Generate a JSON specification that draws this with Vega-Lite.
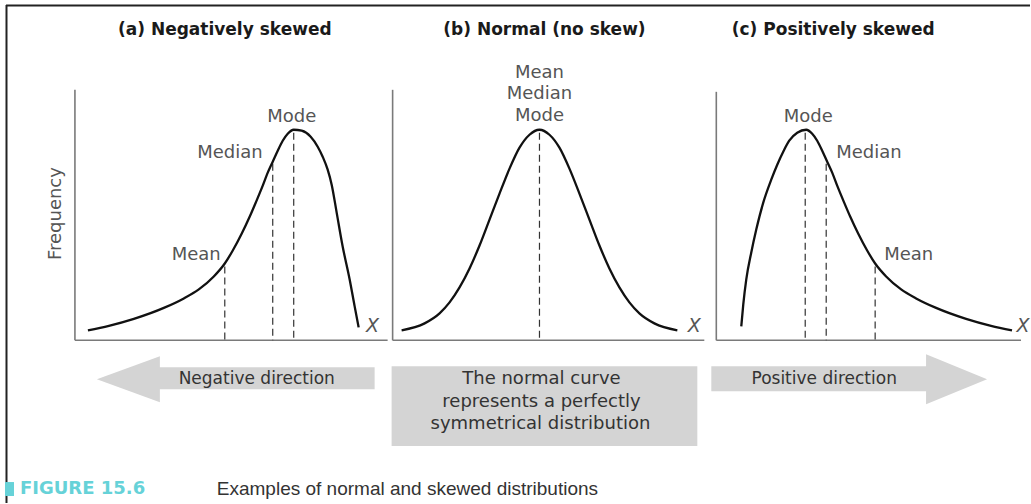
{
  "$schema": "https://vega.github.io/schema/vega-lite/v6.json",
  "width": 1031,
  "height": 504,
  "autosize": {"type": "fit", "contains": "padding"},
  "padding": 0,
  "background": "white",
  "config": {"view": {"stroke": null}},
  "datasets": {
    "frame": [
      {"x": 6, "y": 5.5, "x2": 1031, "y2": 5.5},
      {"x": 6.5, "y": 5, "x2": 6.5, "y2": 504}
    ],
    "axes": [
      {"x": 75, "y": 90, "x2": 75, "y2": 341},
      {"x": 75, "y": 341, "x2": 388, "y2": 341},
      {"x": 393, "y": 90, "x2": 393, "y2": 341},
      {"x": 393, "y": 341, "x2": 705, "y2": 341},
      {"x": 717, "y": 92, "x2": 717, "y2": 341},
      {"x": 717, "y": 341, "x2": 1022, "y2": 341}
    ],
    "dashes": [
      {"x": 225, "y": 267, "y2": 341},
      {"x": 273, "y": 164, "y2": 341},
      {"x": 294, "y": 133, "y2": 341},
      {"x": 540, "y": 133, "y2": 341},
      {"x": 806, "y": 133, "y2": 341},
      {"x": 827, "y": 164, "y2": 341},
      {"x": 876, "y": 267, "y2": 341}
    ],
    "curves": [
      {"panel": "a", "x": 88, "y": 331}, {"panel": "a", "x": 109, "y": 326.5}, {"panel": "a", "x": 134, "y": 319.5},
      {"panel": "a", "x": 164, "y": 308.5}, {"panel": "a", "x": 184, "y": 299}, {"panel": "a", "x": 199, "y": 290},
      {"panel": "a", "x": 214, "y": 277}, {"panel": "a", "x": 225, "y": 264}, {"panel": "a", "x": 233, "y": 251},
      {"panel": "a", "x": 242, "y": 234}, {"panel": "a", "x": 250, "y": 217}, {"panel": "a", "x": 256, "y": 203},
      {"panel": "a", "x": 263, "y": 186}, {"panel": "a", "x": 268, "y": 173}, {"panel": "a", "x": 273, "y": 162},
      {"panel": "a", "x": 278, "y": 151}, {"panel": "a", "x": 283, "y": 141}, {"panel": "a", "x": 288, "y": 134},
      {"panel": "a", "x": 294, "y": 130}, {"panel": "a", "x": 302, "y": 131},
      {"panel": "a", "x": 311, "y": 137}, {"panel": "a", "x": 318, "y": 147}, {"panel": "a", "x": 323, "y": 157},
      {"panel": "a", "x": 328, "y": 170}, {"panel": "a", "x": 332, "y": 185}, {"panel": "a", "x": 337, "y": 213},
      {"panel": "a", "x": 343, "y": 247}, {"panel": "a", "x": 350, "y": 280}, {"panel": "a", "x": 355, "y": 307},
      {"panel": "a", "x": 359, "y": 328},
      {"panel": "b", "x": 402, "y": 331}, {"panel": "b", "x": 425, "y": 324}, {"panel": "b", "x": 440, "y": 314},
      {"panel": "b", "x": 450, "y": 303}, {"panel": "b", "x": 460, "y": 288}, {"panel": "b", "x": 470, "y": 269},
      {"panel": "b", "x": 480, "y": 246}, {"panel": "b", "x": 490, "y": 220}, {"panel": "b", "x": 500, "y": 194},
      {"panel": "b", "x": 510, "y": 169}, {"panel": "b", "x": 520, "y": 148}, {"panel": "b", "x": 530, "y": 135},
      {"panel": "b", "x": 540, "y": 130}, {"panel": "b", "x": 550, "y": 135}, {"panel": "b", "x": 560, "y": 148},
      {"panel": "b", "x": 570, "y": 169}, {"panel": "b", "x": 580, "y": 194}, {"panel": "b", "x": 590, "y": 220},
      {"panel": "b", "x": 600, "y": 246}, {"panel": "b", "x": 610, "y": 269}, {"panel": "b", "x": 620, "y": 288},
      {"panel": "b", "x": 630, "y": 303}, {"panel": "b", "x": 640, "y": 314}, {"panel": "b", "x": 655, "y": 324},
      {"panel": "b", "x": 678, "y": 331},
      {"panel": "c", "x": 742, "y": 327}, {"panel": "c", "x": 744, "y": 305}, {"panel": "c", "x": 747, "y": 280},
      {"panel": "c", "x": 752, "y": 253}, {"panel": "c", "x": 757, "y": 230}, {"panel": "c", "x": 764, "y": 203},
      {"panel": "c", "x": 772, "y": 180}, {"panel": "c", "x": 778, "y": 165}, {"panel": "c", "x": 784, "y": 152},
      {"panel": "c", "x": 790, "y": 141}, {"panel": "c", "x": 798, "y": 133}, {"panel": "c", "x": 807, "y": 130},
      {"panel": "c", "x": 813, "y": 134}, {"panel": "c", "x": 818, "y": 141}, {"panel": "c", "x": 823, "y": 151},
      {"panel": "c", "x": 828, "y": 162}, {"panel": "c", "x": 833, "y": 173}, {"panel": "c", "x": 838, "y": 186},
      {"panel": "c", "x": 845, "y": 203}, {"panel": "c", "x": 851, "y": 217}, {"panel": "c", "x": 859, "y": 234},
      {"panel": "c", "x": 868, "y": 251}, {"panel": "c", "x": 876, "y": 264}, {"panel": "c", "x": 887, "y": 277},
      {"panel": "c", "x": 902, "y": 290}, {"panel": "c", "x": 917, "y": 299}, {"panel": "c", "x": 937, "y": 308.5},
      {"panel": "c", "x": 967, "y": 319.5}, {"panel": "c", "x": 992, "y": 326.5}, {"panel": "c", "x": 1013, "y": 331}
    ],
    "arrowBodies": [
      {"x": 159, "x2": 375, "y": 368, "y2": 390},
      {"x": 712, "x2": 928, "y": 367, "y2": 392}
    ],
    "headLeft": [
      {"x": 128.5, "y": 380}
    ],
    "headRight": [
      {"x": 957.5, "y": 380}
    ],
    "box": [
      {"x": 392, "x2": 698, "y": 367, "y2": 447}
    ],
    "square": [
      {"x": 5, "x2": 14, "y": 483, "y2": 497}
    ],
    "titles": [
      {"x": 225, "y": 30, "text": "(a) Negatively skewed"},
      {"x": 545, "y": 30, "text": "(b) Normal (no skew)"},
      {"x": 834, "y": 30, "text": "(c) Positively skewed"}
    ],
    "labelsCenter": [
      {"x": 292, "y": 117, "text": "Mode"},
      {"x": 540, "y": 73, "text": "Mean"},
      {"x": 540, "y": 94, "text": "Median"},
      {"x": 540, "y": 116, "text": "Mode"},
      {"x": 809, "y": 117, "text": "Mode"}
    ],
    "labelsRight": [
      {"x": 263, "y": 153, "text": "Median"},
      {"x": 221, "y": 256, "text": "Mean"}
    ],
    "labelsLeft": [
      {"x": 837, "y": 153, "text": "Median"},
      {"x": 885, "y": 256, "text": "Mean"}
    ],
    "xlabels": [
      {"x": 373, "y": 327, "text": "X"},
      {"x": 695, "y": 327, "text": "X"},
      {"x": 1024, "y": 327, "text": "X"}
    ],
    "freq": [
      {"x": 56, "y": 214, "text": "Frequency"}
    ],
    "arrowText": [
      {"x": 257, "y": 380, "text": "Negative direction"},
      {"x": 825, "y": 380, "text": "Positive direction"}
    ],
    "boxText": [
      {"x": 542, "y": 380, "text": "The normal curve"},
      {"x": 542, "y": 403, "text": "represents a perfectly"},
      {"x": 541, "y": 425, "text": "symmetrical distribution"}
    ],
    "figLabel": [
      {"x": 20, "y": 490, "text": "FIGURE 15.6"}
    ],
    "caption": [
      {"x": 217, "y": 490, "text": "Examples of normal and skewed distributions"}
    ]
  },
  "layer": [
    {
      "data": {"name": "frame"},
      "mark": {"type": "rule", "color": "#222222", "strokeWidth": 2},
      "encoding": {
        "x": {"field": "x", "type": "quantitative", "scale": {"domain": [0, 1031], "nice": false, "zero": false}, "axis": null},
        "y": {"field": "y", "type": "quantitative", "scale": {"domain": [504, 0], "nice": false, "zero": false}, "axis": null},
        "x2": {"field": "x2"},
        "y2": {"field": "y2"}
      }
    },
    {
      "data": {"name": "arrowBodies"},
      "mark": {"type": "rect", "color": "#d4d4d4"},
      "encoding": {
        "x": {"field": "x", "type": "quantitative", "scale": {"domain": [0, 1031], "nice": false, "zero": false}, "axis": null},
        "y": {"field": "y", "type": "quantitative", "scale": {"domain": [504, 0], "nice": false, "zero": false}, "axis": null},
        "x2": {"field": "x2"},
        "y2": {"field": "y2"}
      }
    },
    {
      "data": {"name": "headLeft"},
      "mark": {"type": "point", "shape": "M-1,0L1,-0.73L1,0.73Z", "size": 3969, "filled": true, "opacity": 1, "color": "#d4d4d4", "strokeWidth": 0},
      "encoding": {
        "x": {"field": "x", "type": "quantitative", "scale": {"domain": [0, 1031], "nice": false, "zero": false}, "axis": null},
        "y": {"field": "y", "type": "quantitative", "scale": {"domain": [504, 0], "nice": false, "zero": false}, "axis": null}
      }
    },
    {
      "data": {"name": "headRight"},
      "mark": {"type": "point", "shape": "M1,0L-1,-0.82L-1,0.82Z", "size": 3721, "filled": true, "opacity": 1, "color": "#d4d4d4", "strokeWidth": 0},
      "encoding": {
        "x": {"field": "x", "type": "quantitative", "scale": {"domain": [0, 1031], "nice": false, "zero": false}, "axis": null},
        "y": {"field": "y", "type": "quantitative", "scale": {"domain": [504, 0], "nice": false, "zero": false}, "axis": null}
      }
    },
    {
      "data": {"name": "box"},
      "mark": {"type": "rect", "color": "#d4d4d4"},
      "encoding": {
        "x": {"field": "x", "type": "quantitative", "scale": {"domain": [0, 1031], "nice": false, "zero": false}, "axis": null},
        "y": {"field": "y", "type": "quantitative", "scale": {"domain": [504, 0], "nice": false, "zero": false}, "axis": null},
        "x2": {"field": "x2"},
        "y2": {"field": "y2"}
      }
    },
    {
      "data": {"name": "square"},
      "mark": {"type": "rect", "color": "#66d2d8"},
      "encoding": {
        "x": {"field": "x", "type": "quantitative", "scale": {"domain": [0, 1031], "nice": false, "zero": false}, "axis": null},
        "y": {"field": "y", "type": "quantitative", "scale": {"domain": [504, 0], "nice": false, "zero": false}, "axis": null},
        "x2": {"field": "x2"},
        "y2": {"field": "y2"}
      }
    },
    {
      "data": {"name": "axes"},
      "mark": {"type": "rule", "color": "#7a7a7a", "strokeWidth": 1.6},
      "encoding": {
        "x": {"field": "x", "type": "quantitative", "scale": {"domain": [0, 1031], "nice": false, "zero": false}, "axis": null},
        "y": {"field": "y", "type": "quantitative", "scale": {"domain": [504, 0], "nice": false, "zero": false}, "axis": null},
        "x2": {"field": "x2"},
        "y2": {"field": "y2"}
      }
    },
    {
      "data": {"name": "dashes"},
      "mark": {"type": "rule", "color": "#333333", "strokeWidth": 1.2, "strokeDash": [7, 4]},
      "encoding": {
        "x": {"field": "x", "type": "quantitative", "scale": {"domain": [0, 1031], "nice": false, "zero": false}, "axis": null},
        "y": {"field": "y", "type": "quantitative", "scale": {"domain": [504, 0], "nice": false, "zero": false}, "axis": null},
        "y2": {"field": "y2"}
      }
    },
    {
      "data": {"name": "curves"},
      "mark": {"type": "line", "color": "#111111", "strokeWidth": 2.3, "interpolate": "monotone"},
      "encoding": {
        "x": {"field": "x", "type": "quantitative", "scale": {"domain": [0, 1031], "nice": false, "zero": false}, "axis": null},
        "y": {"field": "y", "type": "quantitative", "scale": {"domain": [504, 0], "nice": false, "zero": false}, "axis": null},
        "detail": {"field": "panel"}
      }
    },
    {
      "data": {"name": "titles"},
      "mark": {"type": "text", "font": "DejaVu Sans", "fontSize": 17, "fontWeight": "bold", "color": "#1a1a1a", "align": "center", "baseline": "middle"},
      "encoding": {
        "x": {"field": "x", "type": "quantitative", "scale": {"domain": [0, 1031], "nice": false, "zero": false}, "axis": null},
        "y": {"field": "y", "type": "quantitative", "scale": {"domain": [504, 0], "nice": false, "zero": false}, "axis": null},
        "text": {"field": "text"}
      }
    },
    {
      "data": {"name": "labelsCenter"},
      "mark": {"type": "text", "font": "DejaVu Sans", "fontSize": 18, "color": "#555555", "align": "center", "baseline": "middle"},
      "encoding": {
        "x": {"field": "x", "type": "quantitative", "scale": {"domain": [0, 1031], "nice": false, "zero": false}, "axis": null},
        "y": {"field": "y", "type": "quantitative", "scale": {"domain": [504, 0], "nice": false, "zero": false}, "axis": null},
        "text": {"field": "text"}
      }
    },
    {
      "data": {"name": "labelsRight"},
      "mark": {"type": "text", "font": "DejaVu Sans", "fontSize": 18, "color": "#555555", "align": "right", "baseline": "middle"},
      "encoding": {
        "x": {"field": "x", "type": "quantitative", "scale": {"domain": [0, 1031], "nice": false, "zero": false}, "axis": null},
        "y": {"field": "y", "type": "quantitative", "scale": {"domain": [504, 0], "nice": false, "zero": false}, "axis": null},
        "text": {"field": "text"}
      }
    },
    {
      "data": {"name": "labelsLeft"},
      "mark": {"type": "text", "font": "DejaVu Sans", "fontSize": 18, "color": "#555555", "align": "left", "baseline": "middle"},
      "encoding": {
        "x": {"field": "x", "type": "quantitative", "scale": {"domain": [0, 1031], "nice": false, "zero": false}, "axis": null},
        "y": {"field": "y", "type": "quantitative", "scale": {"domain": [504, 0], "nice": false, "zero": false}, "axis": null},
        "text": {"field": "text"}
      }
    },
    {
      "data": {"name": "xlabels"},
      "mark": {"type": "text", "font": "DejaVu Sans", "fontSize": 19, "fontStyle": "italic", "color": "#555555", "align": "center", "baseline": "middle"},
      "encoding": {
        "x": {"field": "x", "type": "quantitative", "scale": {"domain": [0, 1031], "nice": false, "zero": false}, "axis": null},
        "y": {"field": "y", "type": "quantitative", "scale": {"domain": [504, 0], "nice": false, "zero": false}, "axis": null},
        "text": {"field": "text"}
      }
    },
    {
      "data": {"name": "freq"},
      "mark": {"type": "text", "font": "DejaVu Sans", "fontSize": 18, "color": "#555555", "align": "center", "baseline": "middle", "angle": 270},
      "encoding": {
        "x": {"field": "x", "type": "quantitative", "scale": {"domain": [0, 1031], "nice": false, "zero": false}, "axis": null},
        "y": {"field": "y", "type": "quantitative", "scale": {"domain": [504, 0], "nice": false, "zero": false}, "axis": null},
        "text": {"field": "text"}
      }
    },
    {
      "data": {"name": "arrowText"},
      "mark": {"type": "text", "font": "DejaVu Sans", "fontSize": 17, "color": "#333333", "align": "center", "baseline": "middle"},
      "encoding": {
        "x": {"field": "x", "type": "quantitative", "scale": {"domain": [0, 1031], "nice": false, "zero": false}, "axis": null},
        "y": {"field": "y", "type": "quantitative", "scale": {"domain": [504, 0], "nice": false, "zero": false}, "axis": null},
        "text": {"field": "text"}
      }
    },
    {
      "data": {"name": "boxText"},
      "mark": {"type": "text", "font": "DejaVu Sans", "fontSize": 18, "color": "#333333", "align": "center", "baseline": "middle"},
      "encoding": {
        "x": {"field": "x", "type": "quantitative", "scale": {"domain": [0, 1031], "nice": false, "zero": false}, "axis": null},
        "y": {"field": "y", "type": "quantitative", "scale": {"domain": [504, 0], "nice": false, "zero": false}, "axis": null},
        "text": {"field": "text"}
      }
    },
    {
      "data": {"name": "figLabel"},
      "mark": {"type": "text", "font": "DejaVu Sans", "fontSize": 18, "fontWeight": "bold", "color": "#66d2d8", "align": "left", "baseline": "middle"},
      "encoding": {
        "x": {"field": "x", "type": "quantitative", "scale": {"domain": [0, 1031], "nice": false, "zero": false}, "axis": null},
        "y": {"field": "y", "type": "quantitative", "scale": {"domain": [504, 0], "nice": false, "zero": false}, "axis": null},
        "text": {"field": "text"}
      }
    },
    {
      "data": {"name": "caption"},
      "mark": {"type": "text", "font": "Liberation Sans", "fontSize": 19, "color": "#333333", "align": "left", "baseline": "middle"},
      "encoding": {
        "x": {"field": "x", "type": "quantitative", "scale": {"domain": [0, 1031], "nice": false, "zero": false}, "axis": null},
        "y": {"field": "y", "type": "quantitative", "scale": {"domain": [504, 0], "nice": false, "zero": false}, "axis": null},
        "text": {"field": "text"}
      }
    }
  ]
}
